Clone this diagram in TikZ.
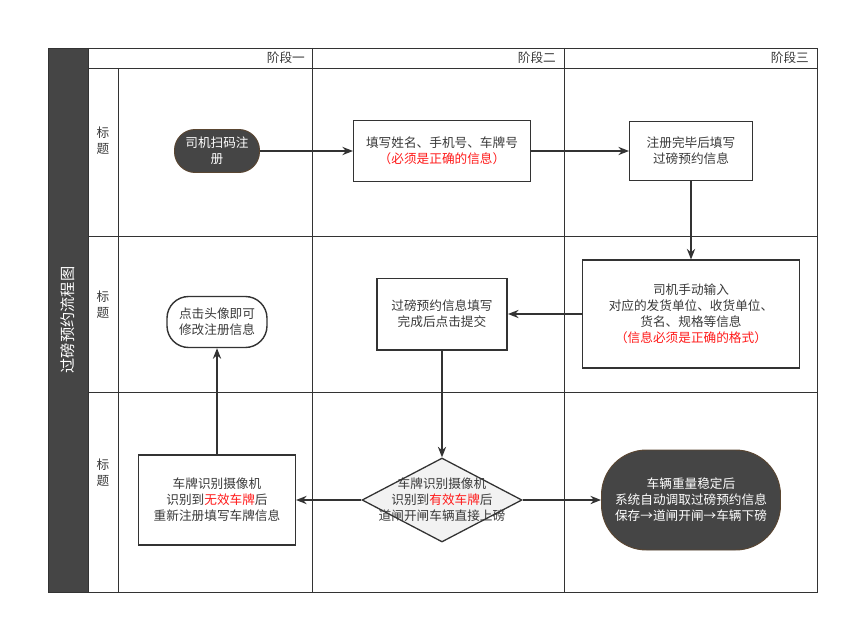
\documentclass[tikz,border=0pt]{standalone}
\usepackage{fontspec}
\setmainfont{Noto Sans CJK SC}
\usetikzlibrary{shapes.geometric, arrows.meta, positioning}
\definecolor{darkf}{HTML}{454545}
\definecolor{linec}{HTML}{333333}
\definecolor{txt}{HTML}{3A3A3A}
\definecolor{termb}{HTML}{5A4632}
\definecolor{warn}{HTML}{FF1A1A}

\begin{document}
\begin{tikzpicture}[x=0.03cm, y=-0.03cm, font=\fontsize{10.8}{13.6}\selectfont, >={Stealth[length=9pt, width=7pt]},
    box/.style={draw=linec, rectangle, fill=white, text=txt, align=center, line width=0.9pt},
    term/.style={draw=termb, rectangle, fill=darkf, text=white, align=center, line width=0.8pt},
    grid/.style={draw=linec, line width=0.8pt},
    flow/.style={->, draw=linec, line width=1.7pt}]
    \useasboundingbox (0,0) rectangle (849,624);

    % swimlane frame
    \fill[darkf] (48,48) rectangle (88,592);
    \draw[grid] (48,48) rectangle (817,592);
    \draw[grid] (88,48) -- (88,592);
    \draw[grid] (88,68) -- (817,68);
    \draw[grid] (118,68) -- (118,592);
    \draw[grid] (312,48) -- (312,592);
    \draw[grid] (564,48) -- (564,592);
    \draw[grid] (88,236) -- (817,236);
    \draw[grid] (88,392) -- (817,392);

    \node[rotate=90, text=white, font=\fontsize{13}{14}\selectfont] (title) at (68,320) {过磅预约流程图};
    \node[anchor=east, text=txt] (s1) at (309,58) {阶段一};
    \node[anchor=east, text=txt] (s2) at (560,58) {阶段二};
    \node[anchor=east, text=txt] (s3) at (813,58) {阶段三};
    \node[align=center, text=txt] (l1) at (103,141) {标\\题};
    \node[align=center, text=txt] (l2) at (103,305) {标\\题};
    \node[align=center, text=txt] (l3) at (103,473) {标\\题};

    % steps
    \node[term, minimum width=2.55cm, minimum height=1.29cm, rounded corners=0.62cm] (scan) at (217,151) {司机扫码注\\册};
    \node[box, minimum width=5.31cm, minimum height=1.83cm] (fill) at (442,151) {填写姓名、手机号、车牌号\\\textcolor{warn}{（必须是正确的信息）}};
    \node[box, minimum width=3.69cm, minimum height=1.77cm] (book) at (691,151) {注册完毕后填写\\过磅预约信息};
    \node[box, minimum width=6.51cm, minimum height=3.24cm] (input) at (691,314) {司机手动输入\\对应的发货单位、收货单位、\\货名、规格等信息\\\textcolor{warn}{（信息必须是正确的格式）}};
    \node[box, line width=1.7pt, minimum width=3.9cm, minimum height=2.13cm] (submit) at (442,314) {过磅预约信息填写\\完成后点击提交};
    \node[draw=linec, diamond, fill=black!5, line width=1.1pt, inner sep=0pt, minimum width=4.8cm, minimum height=2.52cm,
        label={[text=txt, align=center]center:车牌识别摄像机\\识别到\textcolor{warn}{有效车牌}后\\道闸开闸车辆直接上磅}] (cam) at (442,500) {};
    \node[box, minimum width=4.71cm, minimum height=2.7cm] (bad) at (217,500) {车牌识别摄像机\\识别到\textcolor{warn}{无效车牌}后\\重新注册填写车牌信息};
    \node[term, minimum width=5.37cm, minimum height=3.0cm, rounded corners=1.35cm] (done) at (691,500) {车辆重量稳定后\\系统自动调取过磅预约信息\\保存→道闸开闸→车辆下磅};
    \node[box, line width=1.2pt, minimum width=3.0cm, minimum height=1.53cm, rounded corners=0.65cm] (edit) at (217,322) {点击头像即可\\修改注册信息};

    \draw[flow] (scan) -- (fill);
    \draw[flow] (fill) -- (book);
    \draw[flow] (book) -- (input);
    \draw[flow] (input) -- (submit);
    \draw[flow] (submit) -- (cam);
    \draw[flow] (cam) -- (bad);
    \draw[flow] (cam) -- (done);
    \draw[flow] (bad) -- (edit);
\end{tikzpicture}
\end{document}
